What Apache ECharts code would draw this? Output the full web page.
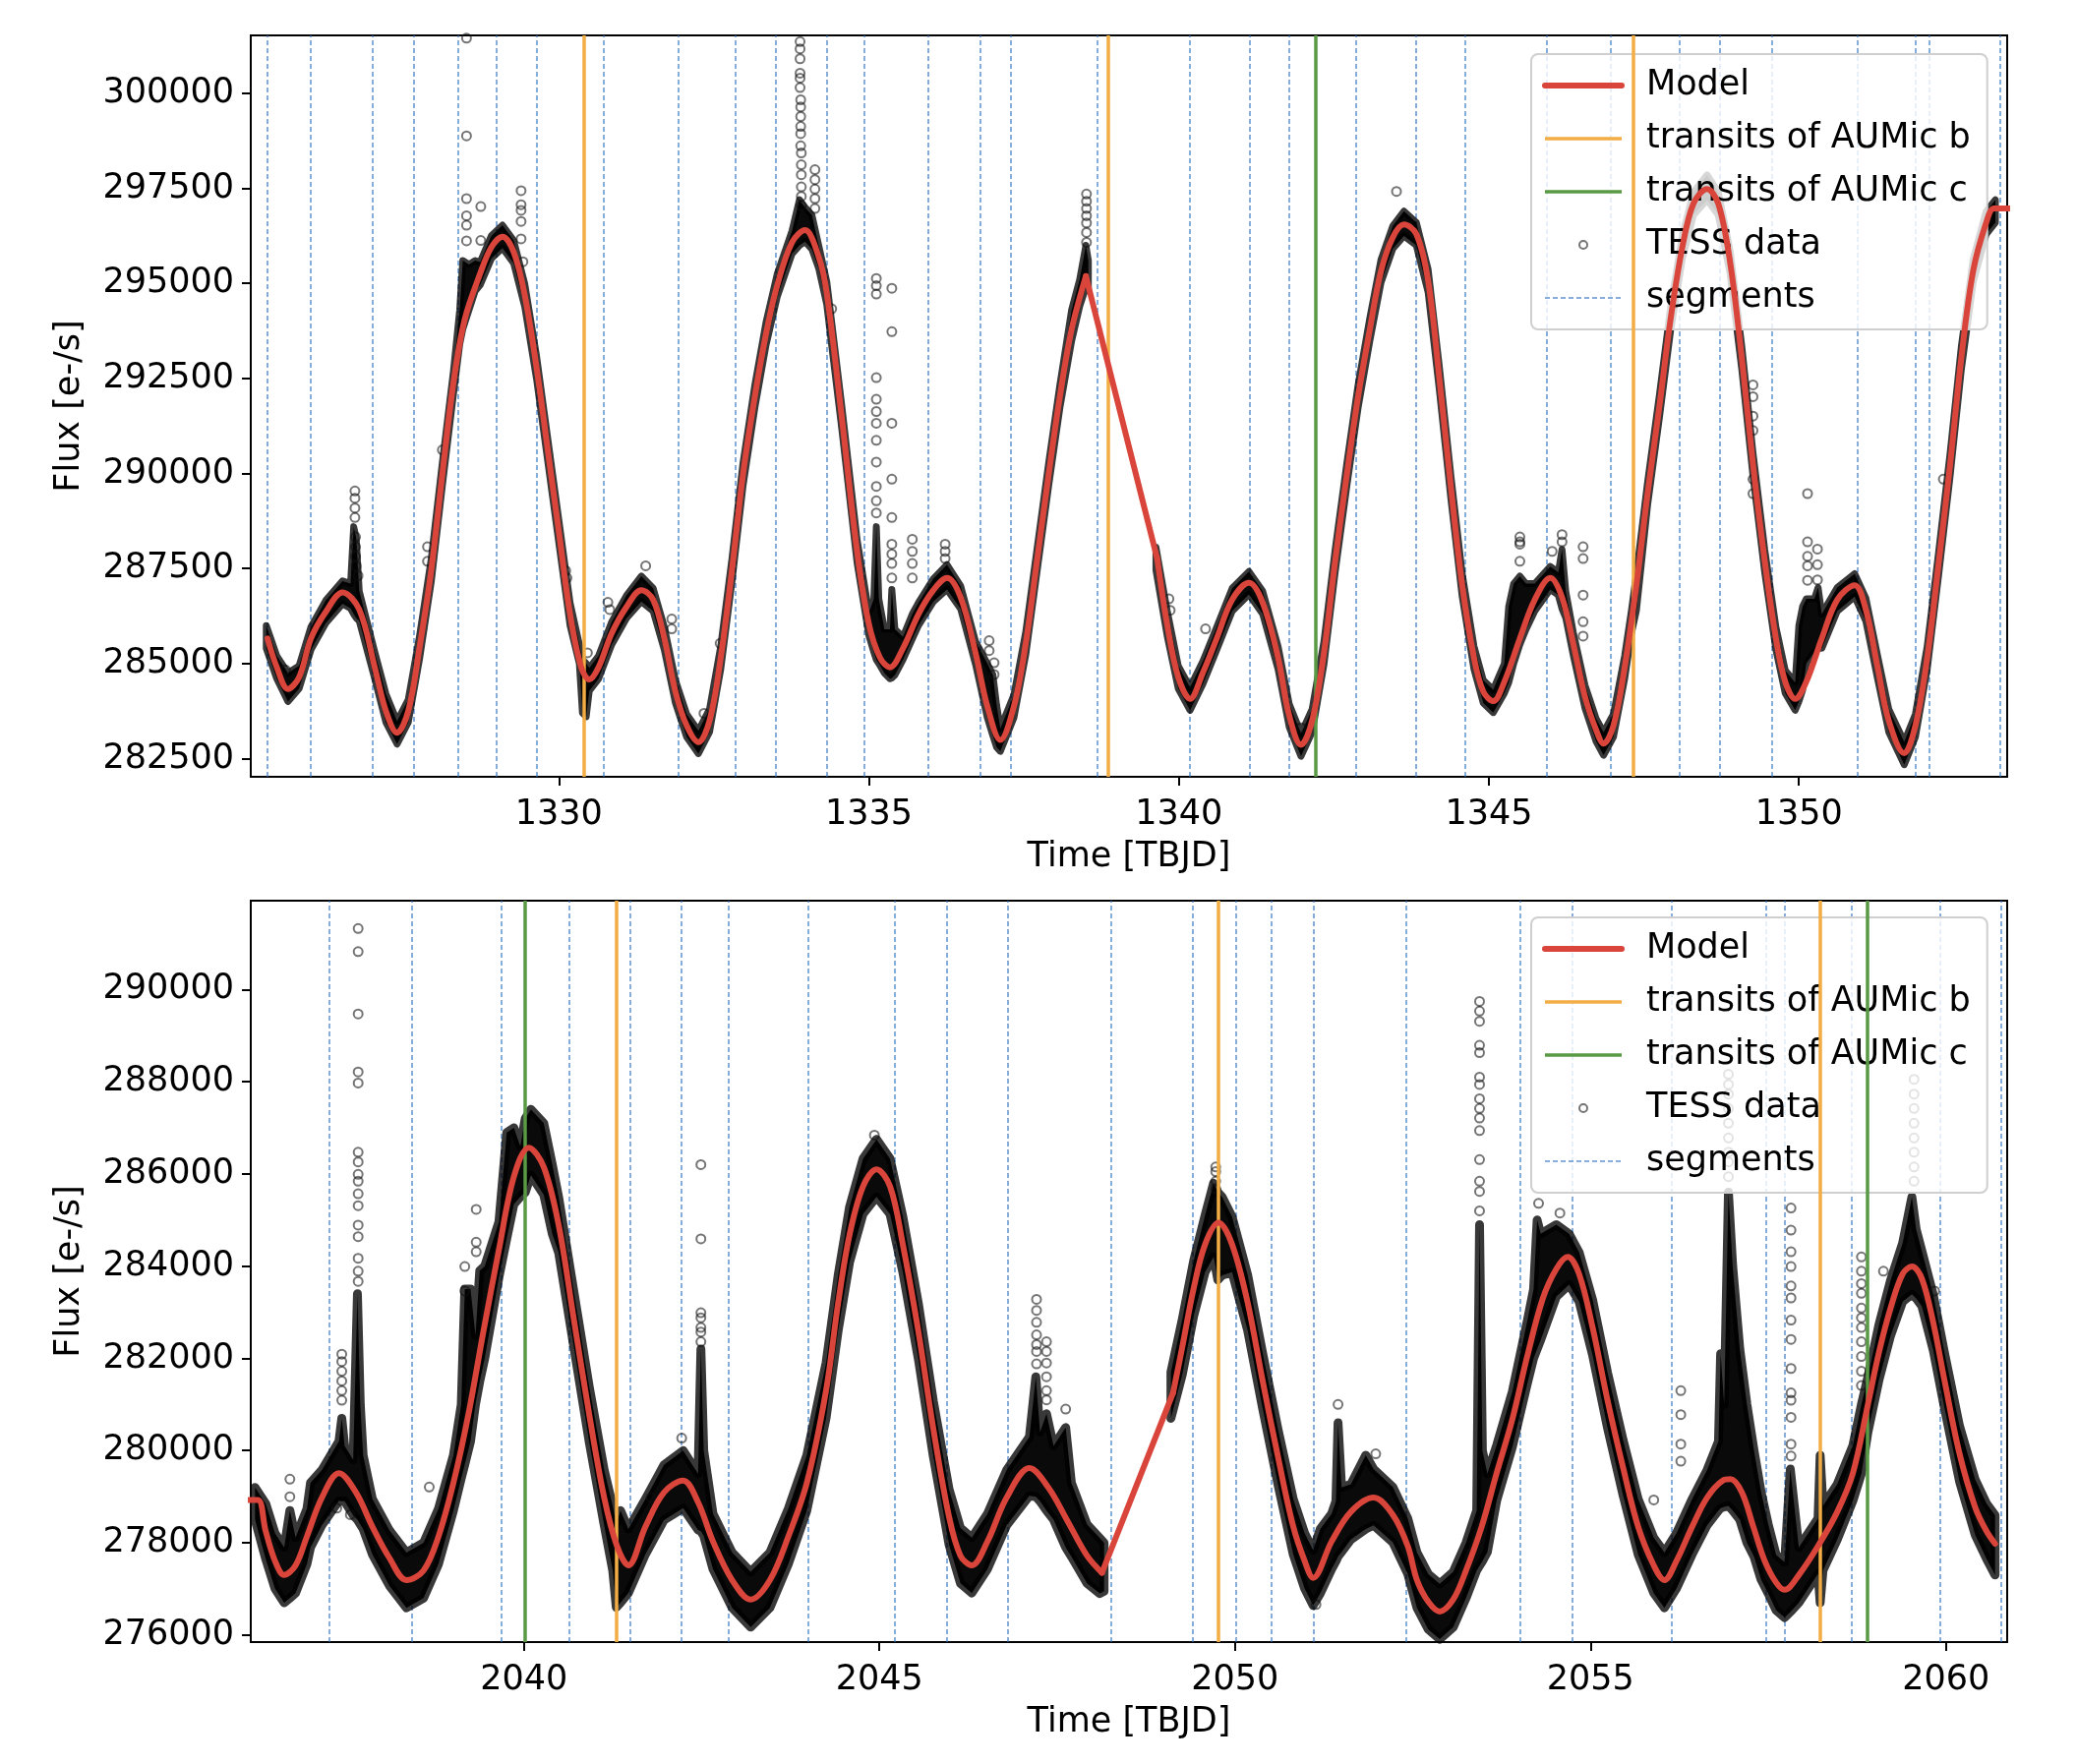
<!DOCTYPE html>
<html><head><meta charset="utf-8">
<script src="https://cdn.jsdelivr.net/npm/echarts@6/dist/echarts.min.js"></script>
<style>html,body{margin:0;padding:0;background:#fff}#c{width:2112px;height:1794px}</style>
</head><body><div id="c"></div>
<script>
// ---------------- DATA ----------------
const TOP_X_TICKS = [1330, 1335, 1340, 1345, 1350];
const TOP_Y_TICKS = [282500, 285000, 287500, 290000, 292500, 295000, 297500, 300000];
const BOT_X_TICKS = [2040, 2045, 2050, 2055, 2060];
const BOT_Y_TICKS = [276000, 278000, 280000, 282000, 284000, 286000, 288000, 290000];

const TOP_SEGMENTS = [1325.30,1326.00,1327.00,1327.66,1328.38,1328.99,1329.64,1330.72,1331.93,1332.85,1333.50,1334.32,1334.92,1335.96,1336.80,1337.28,1338.68,1340.18,1341.14,1341.77,1342.86,1343.82,1344.61,1345.94,1346.96,1348.08,1348.72,1349.56,1350.94,1351.88,1352.10,1353.25];
const TOP_TRANSITS_B = [1330.40, 1338.85, 1347.33];
const TOP_TRANSITS_C = [1342.21];
const BOT_SEGMENTS = [2037.26,2038.42,2039.69,2040.64,2041.49,2042.21,2042.88,2044.00,2045.21,2045.95,2046.81,2048.26,2049.41,2050.01,2050.51,2051.11,2052.41,2054.01,2054.75,2056.14,2057.47,2057.73,2058.67,2059.91,2060.77];
const BOT_TRANSITS_B = [2041.30, 2049.76, 2058.23];
const BOT_TRANSITS_C = [2040.01, 2058.89];

// Model [time, flux]
const TOP_MODEL = [[1325.30,285660],[1325.45,284900],[1325.63,284330],[1325.81,284640],[1326.00,285660],[1326.24,286360],[1326.51,286870],[1326.78,286420],[1327.03,284900],[1327.21,283750],[1327.39,283180],[1327.57,283750],[1327.75,285400],[1327.94,287440],[1328.12,289980],[1328.30,292400],[1328.48,294050],[1328.73,295260],[1328.91,295950],[1329.09,296230],[1329.27,295830],[1329.45,294680],[1329.64,292780],[1329.82,290620],[1330.00,288460],[1330.18,286300],[1330.36,284900],[1330.49,284580],[1330.64,284900],[1330.85,285790],[1331.09,286490],[1331.33,286930],[1331.52,286680],[1331.70,285660],[1331.88,284260],[1332.06,283370],[1332.25,282930],[1332.43,283500],[1332.61,285150],[1332.79,287440],[1332.97,289980],[1333.16,292020],[1333.34,293670],[1333.52,294940],[1333.76,296080],[1333.97,296400],[1334.19,295700],[1334.32,294750],[1334.56,291510],[1334.81,287950],[1335.00,286040],[1335.18,285150],[1335.34,284900],[1335.55,285400],[1335.80,286300],[1336.04,286930],[1336.26,287250],[1336.48,286740],[1336.72,285280],[1336.91,283880],[1337.12,282990],[1337.34,283880],[1337.53,285530],[1337.71,287690],[1337.90,289980],[1338.08,292020],[1338.27,293790],[1338.50,295190],[1339.65,287760],[1339.81,286040],[1339.99,284640],[1340.18,284070],[1340.39,284770],[1340.61,285660],[1340.86,286680],[1341.13,287120],[1341.35,286610],[1341.60,285150],[1341.78,283630],[1341.97,282860],[1342.15,283500],[1342.34,285280],[1342.52,287690],[1342.71,289980],[1342.89,292020],[1343.08,293790],[1343.26,295320],[1343.45,296210],[1343.63,296550],[1343.83,296300],[1344.02,295070],[1344.20,292520],[1344.39,289600],[1344.57,287060],[1344.76,285150],[1344.91,284260],[1345.07,284010],[1345.25,284520],[1345.50,285660],[1345.74,286680],[1345.99,287250],[1346.18,286740],[1346.36,285530],[1346.55,284130],[1346.73,283250],[1346.85,282890],[1347.01,283370],[1347.19,284900],[1347.38,287060],[1347.56,289470],[1347.75,291760],[1347.93,294050],[1348.12,295950],[1348.30,297100],[1348.52,297480],[1348.70,297100],[1348.89,295570],[1349.08,293030],[1349.26,290240],[1349.45,287690],[1349.63,285660],[1349.78,284520],[1349.94,284070],[1350.12,284520],[1350.37,285660],[1350.62,286680],[1350.90,287060],[1351.08,286420],[1351.27,284900],[1351.45,283500],[1351.70,282640],[1351.88,283370],[1352.07,285150],[1352.25,287570],[1352.44,290240],[1352.62,293030],[1352.81,295320],[1353.02,296590],[1353.15,296970],[1353.40,296970]];

const BOT_MODEL = [[2036.10,278930],[2036.26,278930],[2036.37,278250],[2036.50,277610],[2036.63,277300],[2036.79,277510],[2036.95,278140],[2037.16,278980],[2037.40,279510],[2037.64,279090],[2037.87,278350],[2038.11,277670],[2038.35,277190],[2038.59,277400],[2038.80,278140],[2039.01,279300],[2039.22,280780],[2039.43,282570],[2039.65,284360],[2039.86,285940],[2040.07,286570],[2040.28,286150],[2040.49,284890],[2040.70,282880],[2040.92,280780],[2041.13,278980],[2041.31,277930],[2041.47,277510],[2041.71,278350],[2041.97,279090],[2042.24,279350],[2042.45,278880],[2042.66,278030],[2042.93,277190],[2043.19,276770],[2043.46,277190],[2043.72,278140],[2043.98,279300],[2044.25,281300],[2044.42,283200],[2044.58,284680],[2044.77,285730],[2044.96,286100],[2045.15,285730],[2045.33,284470],[2045.55,282570],[2045.76,280460],[2045.98,278560],[2046.14,277720],[2046.30,277510],[2046.52,278030],[2046.79,278980],[2047.11,279620],[2047.38,279190],[2047.65,278460],[2047.92,277720],[2048.13,277350],[2049.13,281250],[2049.26,282250],[2049.42,283520],[2049.58,284470],[2049.77,284940],[2049.96,284470],[2050.18,283200],[2050.39,281510],[2050.61,279830],[2050.82,278350],[2050.98,277610],[2051.10,277240],[2051.36,278030],[2051.63,278670],[2051.95,278980],[2052.22,278610],[2052.43,277930],[2052.56,277190],[2052.72,276720],[2052.88,276510],[2053.07,276770],[2053.25,277400],[2053.47,278350],[2053.68,279510],[2053.90,280670],[2054.11,282040],[2054.33,283300],[2054.52,283940],[2054.68,284200],[2054.84,283830],[2055.03,282670],[2055.24,281090],[2055.46,279620],[2055.67,278350],[2055.89,277510],[2056.04,277190],[2056.21,277610],[2056.43,278350],[2056.64,278980],[2056.86,279350],[2056.97,279380],[2057.13,279090],[2057.29,278350],[2057.45,277610],[2057.61,277140],[2057.73,276980],[2057.93,277300],[2058.20,277930],[2058.47,278670],[2058.69,279510],[2058.90,280990],[2059.06,282150],[2059.22,283090],[2059.39,283830],[2059.52,283990],[2059.66,283730],[2059.82,282780],[2059.98,281510],[2060.19,279930],[2060.41,278770],[2060.57,278250],[2060.69,277980]];

// Dense TESS data band: [time, lower edge, upper edge]; null = data gap
const TOP_BAND = [[1325.28,285400,286000],[1325.45,284600,285200],[1325.63,284000,284750],[1325.81,284340,284940],[1326.00,285360,285960],[1326.24,286060,286660],[1326.51,286570,287170],[1326.64,286450,287100],[1326.69,286300,288600],[1326.73,286200,288300],[1326.78,286120,286900],[1327.03,284600,285300],[1327.21,283450,284200],[1327.39,282880,283480],[1327.57,283450,284050],[1327.75,285100,285700],[1327.94,287140,287740],[1328.12,289680,290280],[1328.30,292100,292700],[1328.40,293400,294300],[1328.45,293800,295600],[1328.55,294300,295500],[1328.65,294800,295600],[1328.73,294960,295560],[1328.91,295650,296250],[1329.09,295930,296530],[1329.27,295530,296130],[1329.45,294380,294980],[1329.64,292480,293080],[1329.82,290320,290920],[1330.00,288160,288760],[1330.18,286000,286600],[1330.33,285000,285500],[1330.38,283700,285100],[1330.44,283600,285000],[1330.49,284280,284880],[1330.64,284600,285200],[1330.85,285490,286090],[1331.09,286190,286790],[1331.33,286630,287300],[1331.52,286380,286980],[1331.70,285360,285960],[1331.88,283960,284560],[1332.06,283070,283670],[1332.25,282630,283230],[1332.43,283200,283800],[1332.61,284850,285450],[1332.79,287140,287740],[1332.97,289680,290280],[1333.16,291720,292320],[1333.34,293370,293970],[1333.52,294640,295240],[1333.76,295780,296380],[1333.88,296000,297200],[1333.97,296100,297000],[1334.08,295900,296800],[1334.19,295400,296000],[1334.32,294450,295050],[1334.56,291210,291810],[1334.81,287650,288250],[1335.00,285740,286340],[1335.08,285300,286700],[1335.12,285100,288600],[1335.16,285000,286700],[1335.25,284750,285900],[1335.34,284600,285900],[1335.37,284620,286950],[1335.42,284700,285900],[1335.55,285100,285700],[1335.70,285650,286300],[1335.80,286000,286600],[1336.04,286630,287230],[1336.26,286950,287600],[1336.48,286440,287040],[1336.72,284980,285580],[1336.91,283580,285000],[1337.00,283100,284700],[1337.06,282800,283900],[1337.12,282690,283290],[1337.34,283580,284180],[1337.53,285230,285830],[1337.71,287390,287990],[1337.90,289680,290280],[1338.08,291720,292320],[1338.27,293490,294300],[1338.40,294400,295100],[1338.50,294900,296000],[1338.54,294800,295600],null,
[1339.63,287460,288060],[1339.81,285740,286400],[1339.99,284340,284940],[1340.18,283770,284370],[1340.39,284470,285070],[1340.61,285360,285960],[1340.86,286380,286980],[1341.13,286820,287420],[1341.35,286310,286910],[1341.60,284850,285450],[1341.78,283330,283930],[1341.97,282560,283160],[1342.15,283200,283800],[1342.34,284980,285580],[1342.52,287390,287990],[1342.71,289680,290280],[1342.89,291720,292320],[1343.08,293490,294090],[1343.26,295020,295620],[1343.45,295910,296510],[1343.63,296250,296900],[1343.83,296000,296600],[1344.02,294770,295370],[1344.20,292220,292820],[1344.39,289300,289900],[1344.57,286760,287360],[1344.76,284850,285450],[1344.91,283960,284560],[1345.07,283710,284310],[1345.25,284220,285000],[1345.32,284500,286500],[1345.40,285000,287100],[1345.50,285500,287300],[1345.60,285900,287100],[1345.74,286380,287100],[1345.99,286950,287550],[1346.12,286800,287400],[1346.18,286440,288000],[1346.24,286200,286900],[1346.36,285230,285830],[1346.55,283830,284430],[1346.73,282950,283550],[1346.85,282590,283190],[1347.01,283070,283670],[1347.19,284600,285200],[1347.30,285800,286400],[1347.38,286400,287360],[1347.56,289170,289770],[1347.75,291460,292060],[1347.93,293750,294350],[1348.12,295650,296250],[1348.30,296800,297400],[1348.52,297200,297850],[1348.70,296800,297400],[1348.89,295270,295870],[1349.08,292730,293330],[1349.26,289940,290540],[1349.45,287390,287990],[1349.63,285360,285960],[1349.78,284220,284820],[1349.94,283770,284500],[1350.00,284000,286000],[1350.06,284300,286500],[1350.12,285000,286700],[1350.25,285300,286700],[1350.31,285400,287000],[1350.37,285400,286300],[1350.62,286380,287000],[1350.90,286760,287360],[1351.08,286120,286720],[1351.27,284600,285200],[1351.45,283200,283800],[1351.70,282340,282940],[1351.88,283070,283670],[1352.07,284850,285450],[1352.25,287270,287870],[1352.44,289940,290540],[1352.62,292730,293330],[1352.81,295020,295620],[1353.02,296290,296890],[1353.17,296600,297200]];

const BOT_BAND = [[2036.22,278500,279200],[2036.37,277650,278850],[2036.50,277010,278210],[2036.63,276700,277900],[2036.71,276800,278700],[2036.79,276910,278110],[2036.95,277540,278740],[2037.00,277900,279300],[2037.16,278380,279580],[2037.40,278910,280200],[2037.44,278900,280700],[2037.48,278900,280100],[2037.60,278600,279800],[2037.66,278500,283400],[2037.70,278400,281000],[2037.74,278300,279900],[2037.87,277750,278950],[2038.11,277070,278270],[2038.35,276590,277790],[2038.59,276800,278000],[2038.80,277540,278740],[2039.01,278700,279900],[2039.12,279400,281000],[2039.17,279700,283500],[2039.25,280200,283500],[2039.32,281000,282500],[2039.38,281500,283900],[2039.45,282000,284000],[2039.65,283760,284960],[2039.76,284600,286900],[2039.86,285340,287000],[2039.95,285500,286600],[2040.02,285600,287200],[2040.10,285970,287400],[2040.28,285550,287100],[2040.40,284700,286200],[2040.49,284290,285490],[2040.70,282280,283480],[2040.92,280180,281380],[2041.13,278380,279580],[2041.25,277400,278800],[2041.30,276600,278400],[2041.36,276700,278700],[2041.47,276910,278300],[2041.71,277750,278950],[2041.97,278490,279690],[2042.24,278750,280000],[2042.45,278280,279500],[2042.49,278250,282200],[2042.53,278150,280000],[2042.66,277430,278630],[2042.93,276590,277790],[2043.19,276170,277370],[2043.46,276590,277790],[2043.72,277540,278740],[2043.98,278700,279900],[2044.25,280700,281900],[2044.42,282600,283800],[2044.58,284080,285280],[2044.77,285130,286330],[2044.96,285500,286750],[2045.15,285130,286330],[2045.33,283870,285070],[2045.55,281970,283170],[2045.76,279860,281060],[2045.98,277960,279160],[2046.14,277120,278320],[2046.30,276910,278110],[2046.52,277430,278630],[2046.79,278380,279580],[2047.11,279020,280300],[2047.20,279000,281600],[2047.26,278900,280400],[2047.35,278700,280800],[2047.45,278500,280100],[2047.62,277900,280500],[2047.70,277700,279300],[2047.92,277120,278400],[2048.10,276900,278100],[2048.16,276950,278000],null,
[2049.10,280700,281700],[2049.26,281650,282850],[2049.42,282920,284120],[2049.58,283870,285100],[2049.70,284200,285800],[2049.76,283700,285600],[2049.82,283800,285500],[2049.96,283870,285070],[2050.18,282600,283800],[2050.39,280910,282110],[2050.61,279230,280430],[2050.82,277750,278950],[2050.98,277010,278210],[2051.10,276640,277840],[2051.20,276900,278300],[2051.36,277430,278630],[2051.42,277600,278900],[2051.45,277700,280600],[2051.50,277800,279200],[2051.63,278070,279270],[2051.84,278300,279900],[2051.95,278380,279600],[2052.22,278010,279210],[2052.43,277330,278530],[2052.56,276590,277790],[2052.72,276120,277320],[2052.88,275910,277110],[2053.07,276170,277370],[2053.25,276800,278000],[2053.40,277400,278700],[2053.44,277500,284900],[2053.48,277600,280000],[2053.55,277800,279500],[2053.68,278910,280110],[2053.90,280070,281270],[2054.11,281440,282800],[2054.20,282000,283500],[2054.25,282200,285000],[2054.30,282400,284700],[2054.52,283340,284900],[2054.70,283600,284700],[2054.84,283230,284300],[2055.03,282070,283270],[2055.24,280490,281690],[2055.46,279020,280220],[2055.67,277750,278950],[2055.89,276910,278110],[2056.04,276590,277790],[2056.21,277010,278210],[2056.43,277750,278950],[2056.64,278380,279580],[2056.80,278700,280200],[2056.83,278750,282100],[2056.88,278780,281000],[2056.94,278800,285600],[2057.00,278700,284000],[2057.10,278500,282200],[2057.20,278000,281000],[2057.30,277700,280000],[2057.40,277200,279100],[2057.50,276900,278400],[2057.61,276540,277740],[2057.73,276380,277580],[2057.81,276500,279600],[2057.93,276700,277900],[2058.20,277330,278530],[2058.23,276700,279900],[2058.27,277400,278800],[2058.47,278070,279270],[2058.69,278910,280110],[2058.81,279500,281000],[2058.90,280390,281590],[2059.06,281550,282750],[2059.22,282490,283690],[2059.39,283230,284500],[2059.52,283390,285500],[2059.58,283300,284800],[2059.66,283130,284330],[2059.82,282180,283380],[2059.98,280910,282110],[2060.19,279330,280530],[2060.41,278170,279370],[2060.57,277650,278850],[2060.69,277300,278600]];

// Individual TESS points standing out of the band [time, flux]
const TOP_POINTS = [[1328.51,301450],[1328.51,298880],[1328.51,297230],[1328.51,296780],[1328.51,296530],[1328.51,296120],[1328.74,297020],[1328.74,296130],[1329.39,297440],[1329.39,297070],[1329.39,296920],[1329.39,296630],[1329.39,296170],[1329.42,295570],[1326.71,289540],[1326.71,289350],[1326.71,289090],[1326.71,288840],[1326.72,288330],[1326.72,288070],[1326.72,287820],[1326.73,287570],[1326.76,287310],[1327.88,288070],[1327.88,287690],[1328.12,290620],[1330.11,287440],[1330.13,287250],[1330.46,285280],[1330.79,286610],[1330.82,286420],[1331.40,287570],[1331.82,286170],[1331.82,285910],[1332.34,283690],[1332.60,285530],[1325.59,284830],[1333.89,301550],[1333.89,301360],[1333.89,301170],[1333.89,300910],[1333.89,300530],[1333.89,300400],[1333.89,300150],[1333.90,299830],[1333.90,299640],[1333.90,299390],[1333.90,299130],[1333.90,298940],[1333.90,298620],[1333.91,298430],[1333.91,298120],[1333.91,297860],[1333.91,297540],[1333.91,297290],[1333.91,297040],[1334.13,297990],[1334.13,297730],[1334.13,297480],[1334.13,297230],[1334.13,296970],[1334.40,294330],[1335.12,295130],[1335.12,294940],[1335.12,294720],[1335.12,292520],[1335.12,291950],[1335.12,291630],[1335.12,291320],[1335.12,290870],[1335.12,290300],[1335.12,289660],[1335.12,289280],[1335.12,288960],[1335.37,294870],[1335.37,293730],[1335.37,291320],[1335.37,289850],[1335.37,288840],[1335.37,288140],[1335.37,287880],[1335.37,287630],[1335.37,287250],[1335.70,288270],[1335.70,287950],[1335.70,287630],[1335.70,287250],[1336.23,288140],[1336.23,287950],[1336.23,287760],[1336.94,285600],[1336.94,285340],[1337.02,285020],[1337.02,284710],[1338.51,297350],[1338.51,297160],[1338.51,296970],[1338.51,296780],[1338.51,296590],[1338.51,296340],[1338.51,296080],[1339.84,286700],[1339.86,286400],[1340.43,285910],[1341.97,283310],[1343.51,297420],[1345.50,288330],[1345.50,288200],[1345.50,288140],[1345.50,287690],[1346.02,287950],[1346.18,288390],[1346.18,288200],[1346.52,288070],[1346.52,287760],[1346.52,286800],[1346.52,286100],[1346.52,285720],[1349.26,292330],[1349.26,292020],[1349.26,291510],[1349.26,291130],[1349.26,289850],[1349.26,289470],[1350.14,289470],[1350.14,288200],[1350.14,287820],[1350.14,287570],[1350.14,287190],[1350.30,288010],[1350.30,287600],[1350.30,287200],[1352.33,289850]];

const BOT_POINTS = [[2037.67,291320],[2037.67,290820],[2037.67,289470],[2037.67,288210],[2037.67,287970],[2037.67,286470],[2037.67,286260],[2037.67,285990],[2037.67,285840],[2037.67,285570],[2037.67,285310],[2037.67,284890],[2037.67,284640],[2037.67,284170],[2037.67,283890],[2037.67,283670],[2037.44,282090],[2037.44,281930],[2037.44,281720],[2037.44,281510],[2037.44,281300],[2037.44,281090],[2036.71,279380],[2036.71,279000],[2037.37,278750],[2037.56,278610],[2039.17,283990],[2039.17,283460],[2039.33,285230],[2039.33,284520],[2039.33,284310],[2038.67,279210],[2042.49,286200],[2042.49,284590],[2042.49,282990],[2042.49,282880],[2042.49,282670],[2042.49,282570],[2042.49,282360],[2042.22,280270],[2041.79,278980],[2044.93,286840],[2047.21,283280],[2047.21,283040],[2047.21,282780],[2047.21,282510],[2047.21,282300],[2047.21,282150],[2047.21,281880],[2047.35,282360],[2047.35,282150],[2047.35,281900],[2047.35,281600],[2047.35,281300],[2047.35,281100],[2047.62,280900],[2049.73,286150],[2049.73,286050],[2049.73,285840],[2049.73,285680],[2051.14,276660],[2051.45,281000],[2051.98,279930],[2053.44,289740],[2053.44,289530],[2053.44,289310],[2053.44,288790],[2053.44,288630],[2053.44,288100],[2053.44,287940],[2053.44,287630],[2053.44,287420],[2053.44,287210],[2053.44,286940],[2053.44,286310],[2053.44,285840],[2053.44,285620],[2053.44,285200],[2054.27,285360],[2054.57,285150],[2056.94,288160],[2056.94,287940],[2056.94,287730],[2056.94,287420],[2056.94,287100],[2056.94,286780],[2056.94,286470],[2056.94,286260],[2056.94,285940],[2056.27,281300],[2056.27,280780],[2056.27,280140],[2056.27,279770],[2057.82,285260],[2057.82,284780],[2057.82,284310],[2057.82,283990],[2057.82,283570],[2057.82,283310],[2057.82,282830],[2057.82,282410],[2057.82,281780],[2057.82,281250],[2057.82,281090],[2057.82,280720],[2057.82,280140],[2057.82,279880],[2058.81,284200],[2058.81,283890],[2058.81,283620],[2058.81,283410],[2058.81,283090],[2058.81,282880],[2058.81,282670],[2058.81,282360],[2058.81,282040],[2058.81,281720],[2058.81,281410],[2059.55,288050],[2059.55,287730],[2059.55,287420],[2059.55,287100],[2059.55,286780],[2059.55,286470],[2059.55,286150],[2059.55,285840],[2059.12,283890],[2059.84,283460],[2055.89,278930]];

// ---------------- CHART ----------------
const FONT = 'DejaVu Sans';
const C_MODEL = '#d9453b', C_B = '#f2ae45', C_C = '#5a9a44', C_SEG = 'rgba(40,110,190,0.75)';
const C_PT = 'rgba(15,15,15,0.72)';
const chart = echarts.init(document.getElementById('c'), null, {renderer: 'canvas', width: 2112, height: 1794});

function splitBand(band) {
  const out = []; let cur = [];
  band.forEach(p => { if (p === null) { if (cur.length) out.push(cur); cur = []; } else cur.push(p); });
  if (cur.length) out.push(cur);
  return out;
}
// model pieces: long gaps in the model are straight connectors, the rest is smooth
function modelSeries(model, idx) {
  const res = []; let cur = [model[0]];
  for (let k = 1; k < model.length; k++) {
    const gap = model[k][0] - model[k - 1][0] > 0.6;
    if (gap) {
      res.push({pts: cur, smooth: true});
      res.push({pts: [model[k - 1], model[k]], smooth: false});
      cur = [model[k]];
    } else cur.push(model[k]);
  }
  res.push({pts: cur, smooth: true});
  return res.map(r => ({
    type: 'line', name: 'Model', xAxisIndex: idx, yAxisIndex: idx, data: r.pts,
    symbol: 'none', smooth: r.smooth ? 0.35 : false, z: 6, silent: true,
    lineStyle: {color: C_MODEL, width: 6, cap: 'round', join: 'round'}, itemStyle: {color: C_MODEL}
  }));
}
function vlines(name, arr, color, width, type, z, idx) {
  return {
    type: 'line', name, xAxisIndex: idx, yAxisIndex: idx, data: [], symbol: 'none', z, silent: true,
    lineStyle: {color, width, type}, itemStyle: {color},
    markLine: {silent: true, symbol: ['none', 'none'], z, label: {show: false}, animation: false,
      emphasis: {disabled: true}, lineStyle: {color, width, type}, data: arr.map(t => ({xAxis: t}))}
  };
}
function bandSeries(band, idx, edge) {
  const segs = splitBand(band);
  return {
    type: 'custom', name: 'TESS band', xAxisIndex: idx, yAxisIndex: idx, z: 2, silent: true,
    data: segs.map(s => [s[0][0], s[0][1]]),
    renderItem: (params, api) => {
      const s = segs[params.dataIndex];
      const pts = [];
      for (let j = 0; j < s.length; j++) pts.push(api.coord([s[j][0], s[j][2]]));
      for (let j = s.length - 1; j >= 0; j--) pts.push(api.coord([s[j][0], s[j][1]]));
      return {type: 'polygon', shape: {points: pts},
        style: {fill: '#0a0a0a', stroke: 'rgba(0,0,0,0.78)', lineWidth: edge, lineJoin: 'round'}};
    }
  };
}
function pointSeries(pts, idx) {
  return {type: 'scatter', name: 'TESS data', xAxisIndex: idx, yAxisIndex: idx, data: pts, z: 3, silent: true,
    symbol: 'circle', symbolSize: 9,
    itemStyle: {color: 'rgba(0,0,0,0)', borderColor: C_PT, borderWidth: 2}};
}
function xAxis(idx, min, max, ticks) {
  return {type: 'value', gridIndex: idx, min, max, splitLine: {show: false},
    axisLine: {show: true, onZero: false, lineStyle: {color: '#000', width: 2}},
    axisTick: {show: true, length: 9, lineStyle: {color: '#000', width: 2}, customValues: ticks},
    axisLabel: {customValues: ticks, fontFamily: FONT, fontSize: 35, color: '#000', margin: 21, formatter: v => String(v)},
    name: 'Time [TBJD]', nameLocation: 'middle', nameGap: 62,
    nameTextStyle: {fontFamily: FONT, fontSize: 35, color: '#000', lineHeight: 40}};
}
function yAxis(idx, min, max, ticks) {
  return {type: 'value', gridIndex: idx, min, max, splitLine: {show: false},
    axisLine: {show: true, onZero: false, lineStyle: {color: '#000', width: 2}},
    axisTick: {show: true, length: 9, lineStyle: {color: '#000', width: 2}, customValues: ticks},
    axisLabel: {customValues: ticks, fontFamily: FONT, fontSize: 35, color: '#000', margin: 17, formatter: v => String(v)},
    name: 'Flux [e-/s]', nameLocation: 'middle', nameGap: 164, nameRotate: 90,
    nameTextStyle: {fontFamily: FONT, fontSize: 35, color: '#000', lineHeight: 40}};
}
const NO_DOT = {color: 'rgba(0,0,0,0)', borderWidth: 0, opacity: 0};
function legend(top) {
  return {left: 1557, top, orient: 'vertical', selectedMode: false,
    padding: [12, 17, 12, 11], itemWidth: 78, itemHeight: 8, itemGap: 14,
    backgroundColor: 'rgba(255,255,255,0.8)', borderColor: '#cfcfcf', borderWidth: 2, borderRadius: 7,
    textStyle: {fontFamily: FONT, fontSize: 35, color: '#000', lineHeight: 40, padding: [0, 0, 0, 20]},
    data: [
      {name: 'Model', itemStyle: NO_DOT, lineStyle: {color: C_MODEL, width: 6, type: 'solid'}},
      {name: 'transits of AUMic b', itemStyle: NO_DOT, lineStyle: {color: C_B, width: 3.5, type: 'solid'}},
      {name: 'transits of AUMic c', itemStyle: NO_DOT, lineStyle: {color: C_C, width: 3.5, type: 'solid'}},
      {name: 'TESS data', icon: 'circle', itemStyle: {color: 'rgba(0,0,0,0)', borderColor: C_PT, borderWidth: 2}},
      {name: 'segments', itemStyle: NO_DOT, lineStyle: {color: C_SEG, width: 1.5, type: [5, 3]}}
    ]};
}

const series = [];
[[TOP_SEGMENTS, TOP_BAND, TOP_POINTS, TOP_TRANSITS_B, TOP_TRANSITS_C, TOP_MODEL, 7],
 [BOT_SEGMENTS, BOT_BAND, BOT_POINTS, BOT_TRANSITS_B, BOT_TRANSITS_C, BOT_MODEL, 9]].forEach((d, i) => {
  series.push(vlines('segments', d[0], C_SEG, 1.5, [5, 3], 1, i));
  series.push(bandSeries(d[1], i, d[6]));
  series.push(pointSeries(d[2], i));
  series.push(vlines('transits of AUMic b', d[3], C_B, 3.5, 'solid', 4, i));
  series.push(vlines('transits of AUMic c', d[4], C_C, 3.5, 'solid', 4, i));
  modelSeries(d[5], i).forEach(s => series.push(s));
});

chart.setOption({
  animation: false,
  backgroundColor: '#fff',
  grid: [
    {left: 255, top: 36, width: 1786, height: 754, show: true, borderColor: '#000', borderWidth: 2},
    {left: 255, top: 916, width: 1786, height: 754, show: true, borderColor: '#000', borderWidth: 2}
  ],
  xAxis: [xAxis(0, 1325.03, 1353.36, TOP_X_TICKS), xAxis(1, 2036.16, 2060.86, BOT_X_TICKS)],
  yAxis: [yAxis(0, 282020, 301524, TOP_Y_TICKS), yAxis(1, 275847, 291925, BOT_Y_TICKS)],
  legend: [legend(55), legend(933)],
  series
});
</script>
</body></html>
